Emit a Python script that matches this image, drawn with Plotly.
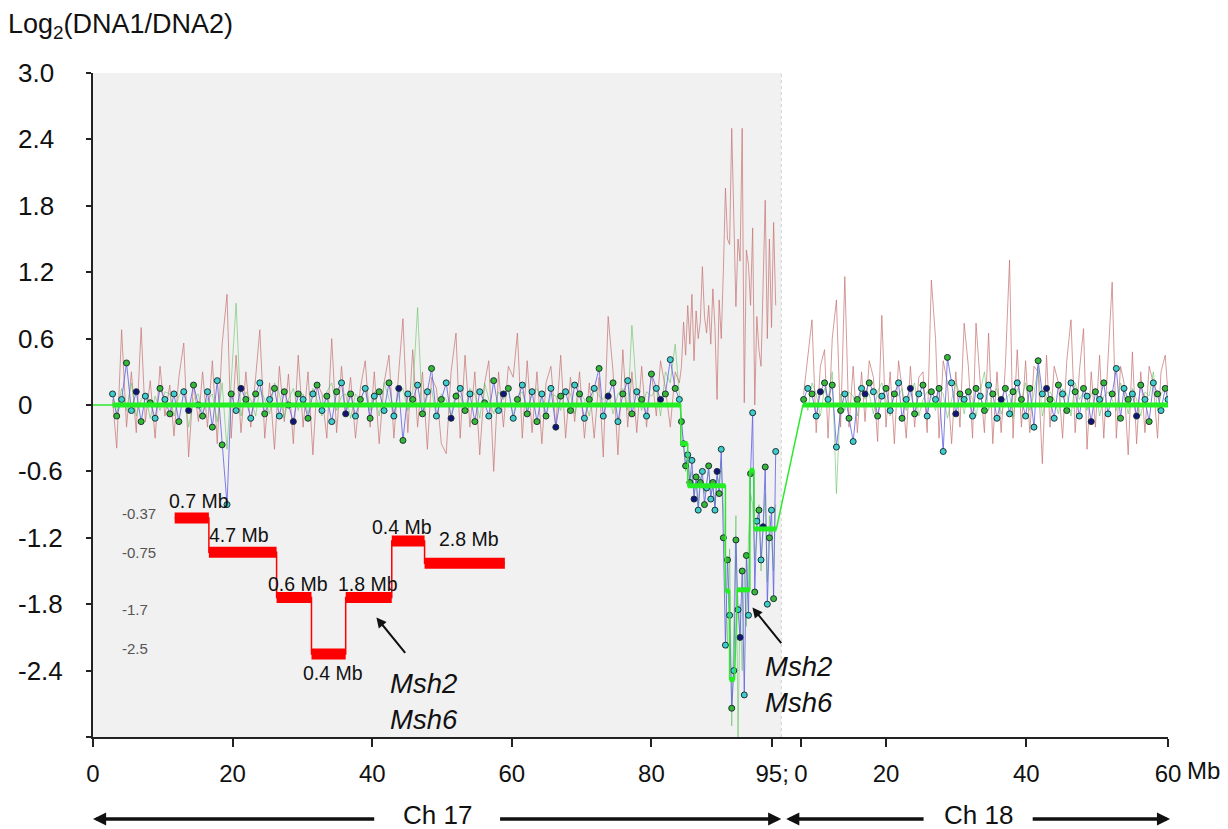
import plotly.graph_objects as go

FONT = "Liberation Sans, Arial, sans-serif"

# ---------------- data ----------------
# probe positions (plot units: Ch17 in Mb, Ch18 shifted after Ch17)
x17_flat = [2.8, 3.4, 4.1, 4.8, 5.5, 6.2, 6.9, 7.5, 8.2, 8.9,
            9.6, 10.3, 11.0, 11.6, 12.3, 13.0, 13.7, 14.4, 15.1, 15.7,
            16.4, 17.1, 17.8, 18.5, 19.2, 19.8, 20.5, 21.2, 21.9, 22.6,
            23.3, 23.9, 24.6, 25.3, 26.0, 26.7, 27.4, 28.0, 28.7, 29.4,
            30.1, 30.8, 31.5, 32.1, 32.8, 33.5, 34.2, 34.9, 35.6, 36.2,
            36.9, 37.6, 38.3, 39.0, 39.7, 40.3, 41.0, 41.7, 42.4, 43.1,
            43.8, 44.4, 45.1, 45.8, 46.5, 47.2, 47.9, 48.5, 49.2, 49.9,
            50.6, 51.3, 52.0, 52.6, 53.3, 54.0, 54.7, 55.4, 56.1, 56.7,
            57.4, 58.1, 58.8, 59.5, 60.2, 60.8, 61.5, 62.2, 62.9, 63.6,
            64.3, 64.9, 65.6, 66.3, 67.0, 67.7, 68.4, 69.0, 69.7, 70.4,
            71.1, 71.8, 72.5, 73.1, 73.8, 74.5, 75.2, 75.9, 76.6, 77.2,
            77.9, 78.6, 79.3, 80.0, 80.7, 81.3, 82.0, 82.7, 83.4, 84.0]
pink17_flat = [0.05, -0.39, 0.68, -0.2, 0.3, -0.25, 0.70, -0.15, 0.22, -0.3,
               0.35, -0.1, 0.18, -0.28, 0.25, 0.56, -0.47, 0.2, -0.15, 0.3,
               -0.2, 0.4, -0.35, 0.55, 1.0, -0.3, 0.45, -0.25, 0.3, -0.2,
               0.25, 0.68, -0.3, 0.2, -0.4, 0.35, -0.15, 0.28, -0.35, 0.45,
               -0.2, 0.3, -0.45, 0.2, 0.1, -0.3, 0.6, -0.25, 0.35, -0.1,
               0.25, -0.3, 0.15, 0.4, -0.2, 0.3, -0.35, 0.2, 0.45, -0.3,
               0.3, 0.78, -0.25, 0.5, -0.2, 0.3, -0.4, 0.25, 0.15, -0.35,
               -0.44, 0.3, 0.65, -0.3, 0.45, -0.2, 0.3, -0.45, 0.2, 0.4,
               -0.6, 0.3, -0.2, 0.35, 0.25, 0.65, -0.3, 0.4, -0.25, 0.3,
               -0.35, 0.2, 0.35, -0.2, 0.45, -0.3, 0.25, -0.15, 0.3, -0.3,
               0.2, -0.3, 0.25, -0.47, 0.8, 0.3, -0.45, 0.5, -0.2, 0.3,
               -0.25, 0.35, -0.2, 0.3, -0.1, 0.4, 0.15, -0.2, 0.3, 0.2]
blue17_flat = [0.1, -0.1, 0.05, 0.38, -0.05, 0.12, -0.15, 0.08, 0.02, -0.12,
               0.15, 0.05, -0.08, 0.1, -0.15, 0.12, -0.05, 0.18, 0.0, -0.1,
               0.12, -0.2, 0.22, -0.36, -0.9, 0.1, -0.05, 0.15, 0.05, -0.12,
               0.1, 0.2, -0.08, 0.05, 0.15, -0.1, 0.12, 0.0, -0.15, 0.1,
               0.05, -0.12, 0.1, 0.18, -0.05, 0.08, -0.15, 0.12, 0.2, -0.08,
               0.1, -0.1, 0.05, 0.15, -0.12, 0.08, 0.12, -0.05, 0.2, -0.1,
               0.15, -0.32, 0.1, 0.05, 0.18, -0.08, 0.12, 0.33, -0.1, 0.05,
               0.2, -0.12, 0.08, 0.15, -0.05, 0.1, -0.15, 0.12, 0.02, -0.1,
               0.22, -0.05, 0.1, 0.15, -0.12, 0.05, 0.18, -0.08, 0.12, -0.15,
               0.1, -0.1, 0.15, -0.2, 0.08, 0.12, -0.05, 0.18, 0.1, -0.12,
               0.05, 0.15, 0.33, -0.1, 0.08, 0.2, -0.15, 0.1, 0.22, -0.08,
               0.12, 0.05, -0.1, 0.28, 0.15, 0.05, 0.1, 0.41, 0.15, 0.05]
green17_flat = [0.12, -0.08, 0.15, -0.05, 0.2, -0.1, 0.05, 0.1, -0.12, 0.08,
                -0.05, 0.12, 0.1, -0.1, 0.08, 0.15, -0.2, 0.05, 0.1, -0.08,
                0.05, 0.1, -0.15, 0.2, -0.4, 0.25, 0.92, -0.1, 0.12, 0.05,
                -0.1, 0.15, 0.05, -0.08, 0.2, 0.1, -0.12, 0.05, 0.15, -0.05,
                0.1, -0.08, 0.15, 0.05, -0.1, 0.12, 0.2, -0.05, 0.08, 0.1,
                -0.12, 0.1, 0.05, 0.15, -0.05, 0.12, -0.1, 0.2, 0.05, -0.08,
                0.1, 0.15, -0.05, 0.12, 0.88, -0.1, 0.08, 0.15, -0.12, 0.1,
                0.05, -0.1, 0.12, 0.08, -0.05, 0.15, 0.1, -0.12, 0.2, 0.05,
                -0.08, 0.12, 0.05, 0.15, -0.1, 0.08, 0.12, -0.05, 0.1, 0.15,
                0.05, -0.12, 0.1, 0.08, -0.05, 0.15, 0.1, -0.08, 0.12, 0.05,
                -0.1, 0.15, 0.08, 0.05, 0.12, -0.08, 0.1, 0.15, -0.05, 0.72,
                0.1, -0.05, 0.12, 0.08, 0.15, -0.1, 0.3, 0.2, 0.55, 0.1]

x17_del = [84.3, 84.6, 84.9, 85.2, 85.5, 85.8, 86.1, 86.4, 86.7, 87.0,
           87.3, 87.6, 87.9, 88.2, 88.5, 88.8, 89.1, 89.4, 89.7, 90.0,
           90.3, 90.6, 90.9, 91.2, 91.5, 91.8, 92.1, 92.4, 92.7, 93.0,
           93.3, 93.6, 93.9, 94.2, 94.5, 94.8, 95.1, 95.4, 95.7, 96.0,
           96.3, 96.6, 96.9, 97.2, 97.5, 97.8]
pink17_del = [0.35, 0.75, 0.45, 0.9, 0.55, 1.0, 0.4, 0.85, 0.6, 0.75,
              1.25, 0.8, 0.65, 0.9, 0.55, 1.05, 0.7, 0.05, 0.95, 0.6,
              1.2, 1.96, 1.5, 1.45, 2.5, 1.6, 0.89, 1.5, 1.3, 2.5,
              0.02, 1.4, 1.27, 0.9, 1.6, 0.0, 0.8, 0.5, 0.35, 1.1,
              1.85, 0.6, 1.5, 0.7, 1.65, 0.9]
blue17_del = [-0.15, -0.35, -0.55, -0.45, -0.7, -0.5, -0.85, -0.65, -0.95, -0.7,
              -0.6, -0.9, -0.75, -0.55, -0.85, -0.7, -0.95, -0.6, -0.8, -0.4,
              -1.2, -2.17, -1.4, -1.9, -2.74, -2.4, -1.22, -1.85, -2.1, -1.5,
              -2.62, -1.36, -1.9, -0.62, -0.07, -1.69, -1.05, -0.95, -1.4, -1.1,
              -0.56, -1.8, -1.2, -0.95, -1.75, -0.42]
green17_del = [-0.2, -0.4, -0.6, -0.5, -0.75, -0.6, -0.8, -0.7, -0.9, -0.65,
               -0.75, -0.8, -0.7, -0.6, -0.8, -0.75, -0.9, -0.65, -0.7, -0.5,
               -0.9, -1.6, -2.2, -1.3, -2.9, -2.0, -1.0, -3.0, -1.8, -2.4,
               -1.5, -2.0, -1.2, -0.8, -0.9, -1.4, -1.2, -0.9, -1.5, -1.1,
               -0.8, -1.6, -1.0, -1.2, -1.5, -0.9]

x18 = [101.8, 102.4, 103.0, 103.6, 104.2, 104.8, 105.3, 105.9, 106.5, 107.1,
       107.7, 108.3, 108.9, 109.5, 110.1, 110.6, 111.2, 111.8, 112.4, 113.0,
       113.6, 114.2, 114.8, 115.4, 115.9, 116.5, 117.1, 117.7, 118.3, 118.9,
       119.5, 120.1, 120.7, 121.2, 121.8, 122.4, 123.0, 123.6, 124.2, 124.8,
       125.4, 126.0, 126.5, 127.1, 127.7, 128.3, 128.9, 129.5, 130.1, 130.7,
       131.3, 131.8, 132.4, 133.0, 133.6, 134.2, 134.8, 135.4, 136.0, 136.6,
       137.1, 137.7, 138.3, 138.9, 139.5, 140.1, 140.7, 141.3, 141.9, 142.4,
       143.0, 143.6, 144.2, 144.8, 145.4, 146.0, 146.6, 147.2, 147.7, 148.3,
       148.9, 149.5, 150.1, 150.7, 151.3, 151.9, 152.5, 153.0, 153.6, 154.0]
pink18 = [0.1, 0.45, 0.77, -0.25, 0.35, 0.5, -0.3, 0.6, 0.95, -0.2,
          1.16, -0.2, 0.35, -0.25, 0.3, -0.15, 0.4, 0.25, -0.33, 0.81,
          -0.2, 0.3, -0.35, 0.4, 0.15, -0.3, 0.35, -0.2, 0.25, 0.3,
          -0.25, 1.13, 0.6, -0.3, 0.4, 0.2, -0.35, 0.3, -0.2, 0.74,
          0.35, -0.3, 0.74, 0.2, -0.25, 0.65, -0.35, 0.3, -0.25, 0.35,
          1.31, -0.3, 0.5, -0.2, 0.4, -0.25, 0.35, 0.3, -0.53, 0.45,
          -0.2, 0.35, 0.2, -0.3, 0.4, 0.77, -0.25, 0.3, 0.69, -0.4,
          0.3, -0.2, 0.45, -0.3, 0.4, 1.11, -0.3, 0.35, 0.2, -0.45,
          0.48, -0.35, 0.3, -0.25, 0.35, 0.2, -0.3, 0.3, 0.45, 0.1]
blue18 = [0.05, 0.15, 0.1, -0.1, 0.12, 0.2, 0.05, 0.18, -0.38, -0.05,
          0.1, -0.12, -0.33, 0.05, 0.15, 0.1, 0.2, 0.12, -0.1, 0.08,
          0.15, -0.05, 0.1, 0.2, -0.12, 0.05, 0.15, -0.08, 0.1, 0.18,
          -0.1, 0.12, 0.05, 0.15, -0.42, 0.43, 0.2, -0.08, 0.1, 0.05,
          0.12, -0.1, 0.15, 0.08, -0.05, 0.18, 0.1, -0.12, 0.05, 0.15,
          -0.08, 0.12, 0.2, 0.05, -0.1, 0.15, -0.2, 0.4, 0.1, 0.15,
          0.05, -0.12, 0.18, 0.1, -0.05, 0.2, 0.12, -0.1, 0.15, 0.08,
          -0.15, 0.12, 0.05, 0.2, -0.08, 0.1, 0.33, -0.12, 0.15, 0.05,
          0.1, -0.1, 0.18, 0.05, -0.15, 0.2, 0.1, -0.05, 0.15, 0.05]
green18 = [0.1, -0.05, 0.2, 0.1, -0.1, 0.15, 0.05, 0.3, -0.8, 0.1,
           -0.05, 0.12, 0.08, -0.1, 0.15, 0.05, 0.1, -0.08, 0.12, 0.2,
           0.05, -0.1, 0.12, 0.08, 0.15, -0.05, 0.1, 0.2, -0.1, 0.05,
           0.12, 0.08, -0.05, 0.15, 0.1, -0.12, 0.05, 0.2, 0.1, -0.08,
           0.15, 0.05, -0.1, 0.12, 0.3, -0.05, 0.1, 0.15, -0.08, 0.05,
           0.1, -0.12, 0.15, 0.05, 0.2, -0.05, 0.1, 0.35, -0.1, 0.08,
           0.12, 0.05, -0.08, 0.15, 0.1, -0.1, 0.2, 0.05, 0.12, -0.05,
           0.1, 0.15, -0.1, 0.08, 0.12, 0.05, -0.05, 0.2, 0.1, -0.08,
           0.15, 0.05, -0.1, 0.12, 0.08, 0.3, -0.05, 0.1, 0.15, 0.05]

# segmentation (start, end, mean log2 ratio)
seg_start = [2.8, 84.2, 85.2, 90.6, 91.2, 92.3, 94.1, 94.7, 101.7]
seg_end = [84.2, 85.2, 90.6, 91.2, 91.9, 94.1, 94.7, 97.9, 154.0]
seg_val = [0.0, -0.35, -0.73, -1.68, -2.48, -1.67, -0.59, -1.12, 0.0]

# schematic inset of the deletion steps
inset_edges = [11.7, 16.6, 26.3, 31.3, 36.2, 42.8, 47.5, 59.0]
inset_vals = [-1.02, -1.33, -1.74, -2.25, -1.74, -1.23, -1.43]
inset_sizes = ["0.7 Mb", "4.7 Mb", "0.6 Mb", "0.4 Mb", "1.8 Mb", "0.4 Mb", "2.8 Mb"]
inset_level_text = ["-0.37", "-0.75", "-1.7", "-2.5"]
inset_level_y = [-0.98, -1.33, -1.85, -2.2]
inset_level_x = 3.9

# Msh2 / Msh6 locus arrows (head positions)
locus_x = [40.6, 94.47]
locus_y = [-1.92, -1.83]

# axes
y_tick_vals = [3.0, 2.4, 1.8, 1.2, 0.6, 0.0, -0.6, -1.2, -1.8, -2.4]
y_tick_text = ["3.0", "2.4", "1.8", "1.2", "0.6", "0", "-0.6", "-1.2", "-1.8", "-2.4"]
y_tick_marks = [3.0, 2.4, 1.8, 1.2, 0.6, 0.0, -0.6, -1.2, -1.8, -2.4, -3.0]
x_tick_vals = [0, 20, 40, 60, 80, 97.3, 101.4, 113.6, 133.7, 154.0]
x_tick_text = ["0", "20", "40", "60", "80", "95;", "0", "20", "40", "60"]
ch17_span = [0.0, 98.6]
ch18_span = [99.3, 154.3]
x_max = 154.0

# ---------------- figure ----------------
fig = go.Figure()

x_line = x17_flat + x17_del + [None] + x18
fig.add_trace(go.Scatter(x=x_line, y=pink17_flat + pink17_del + [None] + pink18,
                         mode="lines", line=dict(color="rgba(200,120,120,0.75)", width=1),
                         hoverinfo="skip"))
fig.add_trace(go.Scatter(x=x_line, y=green17_flat + green17_del + [None] + green18,
                         mode="lines", line=dict(color="rgba(90,190,90,0.55)", width=1),
                         hoverinfo="skip"))
fig.add_trace(go.Scatter(x=x_line, y=blue17_flat + blue17_del + [None] + blue18,
                         mode="lines", line=dict(color="rgba(95,95,225,0.8)", width=1),
                         hoverinfo="skip"))

x_pts = x17_flat + x17_del + x18
y_pts = blue17_flat + blue17_del + blue18
palette = ["#3fcccc", "#36b836", "#3fcccc", "#36b836", "#3fcccc", "#12127a",
           "#36b836", "#3fcccc", "#36b836", "#3fcccc", "#36b836"]
pt_colors = [palette[i % len(palette)] for i in range(len(x_pts))]
fig.add_trace(go.Scatter(x=x_pts, y=y_pts, mode="markers",
                         marker=dict(size=6, color=pt_colors, line=dict(color="#1b3232", width=1)),
                         hoverinfo="skip"))

# segmentation: thin connecting path + thick segments
px_, py_ = [0.0], [seg_val[0]]
tx, ty = [], []
for s, e, v in zip(seg_start, seg_end, seg_val):
    px_ += [s, e]
    py_ += [v, v]
    tx += [s, e, None]
    ty += [v, v, None]
fig.add_trace(go.Scatter(x=px_, y=py_, mode="lines", line=dict(color="#2ee82e", width=1.5),
                         hoverinfo="skip"))
fig.add_trace(go.Scatter(x=tx, y=ty, mode="lines", line=dict(color="#22ee22", width=5),
                         hoverinfo="skip"))

# inset step plot
sx = inset_edges
sy = inset_vals + [inset_vals[-1]]
fig.add_trace(go.Scatter(x=sx, y=sy, mode="lines", line=dict(color="#ff0000", width=1.5, shape="hv"),
                         hoverinfo="skip"))
bx, by = [], []
for i, v in enumerate(inset_vals):
    bx += [inset_edges[i], inset_edges[i + 1], None]
    by += [v, v, None]
fig.add_trace(go.Scatter(x=bx, y=by, mode="lines", line=dict(color="#ff0000", width=11),
                         hoverinfo="skip"))

label_shift = [(7, 17), (-4, 17), (4, 14), (4, -19), (-1, 14), (-6, 14), (4, 24)]
for i, (txt, v) in enumerate(zip(inset_sizes, inset_vals)):
    cx = (inset_edges[i] + inset_edges[i + 1]) / 2
    fig.add_annotation(x=cx, y=v, xref="x", yref="y", text=txt, showarrow=False,
                       xshift=label_shift[i][0], yshift=label_shift[i][1],
                       font=dict(family=FONT, size=19.5, color="#111"))
for txt, yv in zip(inset_level_text, inset_level_y):
    fig.add_annotation(x=inset_level_x, y=yv, xref="x", yref="y", text=txt, showarrow=False,
                       xanchor="left", font=dict(family=FONT, size=15, color="#555"))

# Msh2/Msh6 arrows and labels
text_shift = [(48, -84), (47, -77)]
for lx, ly, (dx, dy) in zip(locus_x, locus_y, text_shift):
    fig.add_annotation(x=lx, y=ly, xref="x", yref="y", text="", showarrow=True,
                       ax=30, ay=37, arrowhead=2, arrowsize=1, arrowwidth=2, arrowcolor="#111")
    fig.add_annotation(x=lx, y=ly, xref="x", yref="y",
                       text="<i>Msh2</i><br><i>Msh6</i>", showarrow=False,
                       xshift=dx, yshift=dy, font=dict(family=FONT, size=27.5, color="#111"))

# y tick labels (left aligned)
for v, t in zip(y_tick_vals, y_tick_text):
    fig.add_annotation(x=-0.072, y=v, xref="paper", yref="y", text=t, showarrow=False,
                       xanchor="left", font=dict(family=FONT, size=26, color="#111"))

# title
fig.add_annotation(x=-0.081, y=1.0715, xref="paper", yref="paper", xanchor="left", yanchor="middle",
                   text="Log<sub>2</sub>(DNA1/DNA2)", showarrow=False,
                   font=dict(family=FONT, size=27, color="#111"))

# "Mb" unit after last tick
fig.add_annotation(x=x_max, y=-0.0505, xref="x", yref="paper", xanchor="left", yanchor="middle",
                   xshift=17, text="Mb", showarrow=False, font=dict(family=FONT, size=24, color="#111"))

# chromosome arrows
y_arr = -0.1235
for name, (a, b), gap in [("Ch 17", ch17_span, 8.8), ("Ch 18", ch18_span, 7.6)]:
    mid = (a + b) / 2
    fig.add_annotation(x=mid, y=y_arr, xref="x", yref="paper", text=name, showarrow=False,
                       yanchor="middle", yshift=4, font=dict(family=FONT, size=26, color="#111"))
    for head, tail in [(a, mid - gap), (b, mid + gap)]:
        fig.add_annotation(x=head, y=y_arr, xref="x", yref="paper", ax=tail, ay=0,
                           axref="x", ayref="pixel", text="", showarrow=True,
                           arrowhead=2, arrowsize=0.75, arrowwidth=3.5, arrowcolor="#111")

# background region for Ch17 and its edge
fig.add_shape(type="rect", x0=ch17_span[0], x1=ch17_span[1], y0=-3, y1=3, xref="x", yref="y",
              fillcolor="#f1f1f1", line=dict(width=0), layer="below")
fig.add_shape(type="line", x0=ch17_span[1], x1=ch17_span[1], y0=-3, y1=3, xref="x", yref="y",
              line=dict(color="#cfcfcf", width=1, dash="dot"), layer="below")

fig.update_xaxes(range=[0, x_max], showgrid=False, zeroline=False, showline=True,
                 linecolor="#222", linewidth=2, ticks="outside", ticklen=8, tickwidth=2,
                 tickcolor="#222", tickvals=x_tick_vals, ticktext=x_tick_text,
                 tickfont=dict(family=FONT, size=24, color="#111"), ticklabelstandoff=6)
fig.update_yaxes(range=[-3, 3], showgrid=False, zeroline=False, showline=True,
                 linecolor="#222", linewidth=2, ticks="outside", ticklen=5, tickwidth=1.5,
                 tickcolor="#222", tickvals=y_tick_marks, showticklabels=False)

# the page body adds an 8 px margin; the figure is sized to fill the rest of the window
fig.update_layout(width=1220, height=821, margin=dict(l=85, r=60, t=65, b=92),
                  plot_bgcolor="white", paper_bgcolor="white", showlegend=False,
                  font=dict(family=FONT))

fig.write_html("out.html")
